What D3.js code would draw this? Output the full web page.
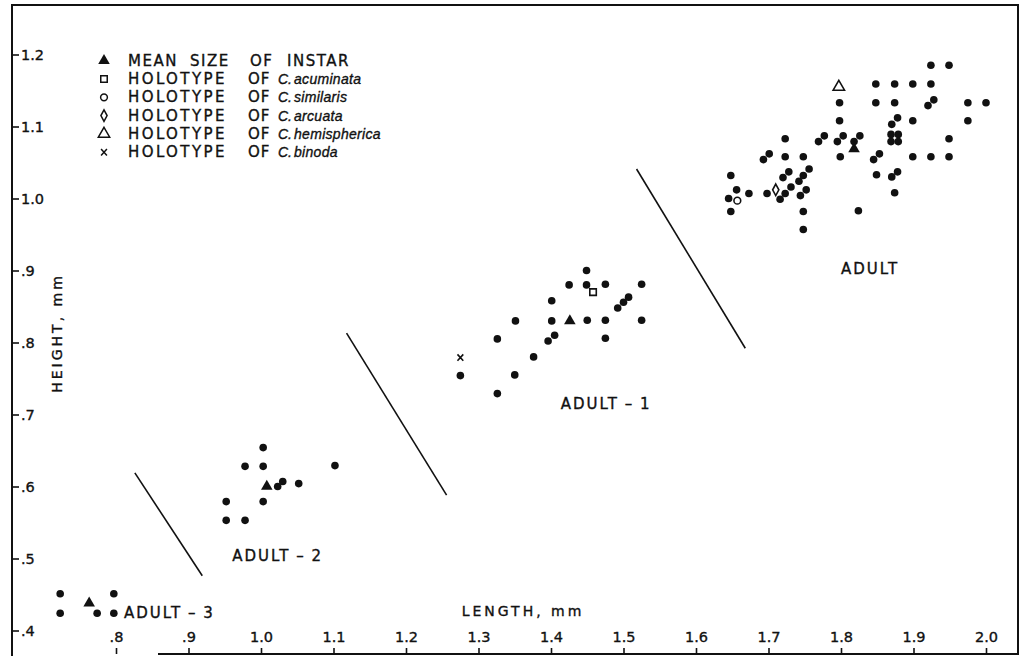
<!DOCTYPE html>
<html>
<head>
<meta charset="utf-8">
<script src="https://cdn.jsdelivr.net/npm/d3@7"></script>
<style>
body { margin: 0; background: #fff; }
svg { display: block; }
text { font-family: "DejaVu Sans", sans-serif; fill: #111; stroke: #111; stroke-width: 0.35px; }
</style>
</head>
<body>
<div id="chart"></div>
<script>
"use strict"

// length, height (mm) of each specimen, grouped by instar
var adult3 = [[0.723,0.451],[0.723,0.424],[0.797,0.451],[0.797,0.424],[0.774,0.424]];
var adult2 = [[0.952,0.579],[0.952,0.553],[0.978,0.628],[0.978,0.553],[1.003,0.654],
	[1.003,0.628],[1.003,0.579],[1.023,0.600],[1.030,0.607],[1.052,0.604],[1.102,0.629]];
var adult1 = [[1.275,0.754],[1.326,0.805],[1.326,0.729],[1.351,0.830],[1.350,0.755],
	[1.376,0.780],[1.396,0.802],[1.405,0.810],[1.401,0.858],[1.401,0.830],[1.425,0.880],
	[1.449,0.900],[1.449,0.880],[1.450,0.831],[1.475,0.881],[1.475,0.831],[1.475,0.806],
	[1.492,0.848],[1.500,0.856],[1.507,0.863],[1.525,0.881],[1.525,0.831]];
var adult = [[1.924,1.185],[1.949,1.185],
	[1.848,1.159],[1.874,1.159],[1.899,1.159],[1.924,1.159],
	[1.798,1.133],[1.848,1.133],[1.874,1.133],[1.920,1.129],[1.928,1.137],[1.975,1.133],[2.000,1.133],
	[1.798,1.108],[1.870,1.103],[1.878,1.112],[1.899,1.108],[1.975,1.108],
	[1.723,1.083],[1.769,1.079],[1.777,1.087],[1.795,1.079],[1.803,1.087],[1.818,1.079],[1.826,1.087],
	[1.869,1.089],[1.879,1.089],[1.869,1.079],[1.879,1.079],[1.949,1.083],
	[1.693,1.054],[1.701,1.062],[1.723,1.058],[1.748,1.058],[1.799,1.058],[1.845,1.054],[1.853,1.062],
	[1.899,1.058],[1.924,1.058],[1.949,1.058],
	[1.648,1.032],[1.756,1.041],[1.748,1.032],[1.728,1.037],[1.720,1.029],[1.849,1.033],[1.870,1.030],[1.878,1.037],
	[1.656,1.012],[1.673,1.007],[1.698,1.007],[1.716,0.999],[1.723,1.007],[1.731,1.016],[1.742,1.024],
	[1.752,1.012],[1.744,1.004],[1.874,1.008],
	[1.645,1.000],
	[1.648,0.982],[1.748,0.982],[1.824,0.983],
	[1.748,0.957]];

var meanLength = [0.763, 1.008, 1.426, 1.818];
var meanHeight = [0.438, 0.600, 0.830, 1.069];

var holoSpecies = ["acuminata", "similaris", "arcuata", "hemispherica", "binoda"];
var holoLength  = [1.458, 1.657, 1.710, 1.797, 1.275];
var holoHeight  = [0.870, 0.997, 1.012, 1.155, 0.779];

// boundaries drawn between instars, [length, height] end points
var dividers = [
	[[0.826,0.619],[0.919,0.476]],
	[[1.118,0.813],[1.256,0.588]],
	[[1.518,1.041],[1.668,0.792]]
];

var instarNames = ["ADULT \u2013 3", "ADULT \u2013 2", "ADULT \u2013 1", "ADULT"];

var xTicks = [0.8, 0.9, 1.0, 1.1, 1.2, 1.3, 1.4, 1.5, 1.6, 1.7, 1.8, 1.9, 2.0];
var xTickLabels = [".8", ".9", "1.0", "1.1", "1.2", "1.3", "1.4", "1.5", "1.6", "1.7", "1.8", "1.9", "2.0"];
var yTicks = [0.4, 0.5, 0.6, 0.7, 0.8, 0.9, 1.0, 1.1, 1.2];
var yTickLabels = [".4", ".5", ".6", ".7", ".8", ".9", "1.0", "1.1", "1.2"];

//
// 
//
var nWidth = 1024, nHeight = 656;

var svg = d3.select("#chart")
	.append("svg")
	.attr("width", nWidth)
	.attr("height", nHeight)
	;

var x = d3.scaleLinear().domain([0.8, 2.0]).range([116, 986]);
var y = d3.scaleLinear().domain([0.4, 1.2]).range([630.5, 54.5]);

// frame
var frame = svg.append("g")
	.attr("stroke", "#111")
	.attr("stroke-width", 2)
	.attr("fill", "none")
	;
frame.append("path").attr("d", "M12,656 L12,5 L1018,5 L1018,655");
frame.append("line")
	.attr("x1", 158).attr("y1", 654)
	.attr("x2", 1018).attr("y2", 654)
	;

// axes
var xAxis = d3.axisTop(x)
	.tickValues(xTicks)
	.tickFormat(function(d, i) { return xTickLabels[i]; })
	.tickSize(6)
	.tickPadding(6)
	;
var gx = svg.append("g")
	.attr("transform", "translate(0,654)")
	.call(xAxis)
	;
var yAxis = d3.axisRight(y)
	.tickValues(yTicks)
	.tickFormat(function(d, i) { return yTickLabels[i]; })
	.tickSize(7)
	.tickPadding(2)
	;
var gy = svg.append("g")
	.attr("transform", "translate(12,0)")
	.call(yAxis)
	;
[gx, gy].forEach(function(g) {
	g.select(".domain").remove();
	g.selectAll(".tick line").attr("stroke", "#111").attr("stroke-width", 1.6);
	g.selectAll(".tick text")
		.attr("fill", "#111")
		.style("font-family", "\"DejaVu Sans\", sans-serif")
		.style("font-size", "14.5px")
		;
});

// axis titles
svg.append("text")
	.attr("x", 523)
	.attr("y", 611)
	.attr("text-anchor", "middle")
	.attr("dominant-baseline", "central")
	.style("font-size", "14px")
	.style("letter-spacing", "3px")
	.text("LENGTH, mm")
	;
svg.append("text")
	.attr("transform", "translate(57,333) rotate(-90)")
	.attr("text-anchor", "middle")
	.attr("dominant-baseline", "central")
	.style("font-size", "14px")
	.style("letter-spacing", "3px")
	.text("HEIGHT, mm")
	;

// instar dividers
svg.append("g").selectAll("line")
	.data(dividers)
	.enter().append("line")
	.attr("x1", function(d) { return x(d[0][0]); })
	.attr("y1", function(d) { return y(d[0][1]); })
	.attr("x2", function(d) { return x(d[1][0]); })
	.attr("y2", function(d) { return y(d[1][1]); })
	.attr("stroke", "#111")
	.attr("stroke-width", 1.6)
	;

// instar labels, anchored in data units
var labelAt = [[0.811, 0.425, "start"], [1.023, 0.503, "middle"], [1.476, 0.715, "middle"], [1.840, 0.902, "middle"]];
svg.append("g").selectAll("text")
	.data(instarNames)
	.enter().append("text")
	.attr("x", function(d, i) { return x(labelAt[i][0]); })
	.attr("y", function(d, i) { return y(labelAt[i][1]); })
	.attr("text-anchor", function(d, i) { return labelAt[i][2]; })
	.attr("dominant-baseline", "central")
	.style("font-size", "15px")
	.style("letter-spacing", "2px")
	.style("word-spacing", "-1px")
	.text(function(d) { return d; })
	;

// specimens
var allPoints = adult3.concat(adult2, adult1, adult);
svg.append("g").selectAll("circle")
	.data(allPoints)
	.enter().append("circle")
	.attr("cx", function(d) { return x(d[0]); })
	.attr("cy", function(d) { return y(d[1]); })
	.attr("r", 3.8)
	.attr("fill", "#111")
	;

// symbols
var symNarrowDiamond = {
	draw: function(ctx, size) {
		var r = Math.sqrt(size);
		ctx.moveTo(0, -r * 0.75);
		ctx.lineTo(r * 0.4, 0);
		ctx.lineTo(0, r * 0.75);
		ctx.lineTo(-r * 0.4, 0);
		ctx.closePath();
	}
};
var symCross = {
	draw: function(ctx, size) {
		var r = Math.sqrt(size) / 2;
		ctx.moveTo(-r, -r * 1.1);
		ctx.lineTo(r, r * 1.1);
		ctx.moveTo(r, -r * 1.1);
		ctx.lineTo(-r, r * 1.1);
	}
};
var holoSymbols = [
	d3.symbol().type(d3.symbolSquare).size(42),
	d3.symbol().type(d3.symbolCircle).size(36),
	d3.symbol().type(symNarrowDiamond).size(60),
	d3.symbol().type(d3.symbolTriangle).size(56),
	d3.symbol().type(symCross).size(34)
];
var meanSymbol = d3.symbol().type(d3.symbolTriangle).size(58);

svg.append("g").selectAll("path")
	.data(meanLength)
	.enter().append("path")
	.attr("transform", function(d, i) { return "translate(" + x(d) + "," + y(meanHeight[i]) + ")"; })
	.attr("d", meanSymbol())
	.attr("fill", "#111")
	;

svg.append("g").selectAll("path")
	.data(holoSpecies)
	.enter().append("path")
	.attr("transform", function(d, i) { return "translate(" + x(holoLength[i]) + "," + y(holoHeight[i]) + ")"; })
	.attr("d", function(d, i) { return holoSymbols[i](); })
	.attr("fill", "#fff")
	.attr("stroke", "#111")
	.attr("stroke-width", 1.6)
	;

// legend
var legX = 104, legText = 128, legY = 60.7, legStep = 18.3;
var legend = svg.append("g");
legend.append("path")
	.attr("transform", "translate(" + legX + "," + legY + ")")
	.attr("d", meanSymbol())
	.attr("fill", "#111")
	;
var words = [["MEAN", 128], ["SIZE", 190], ["OF", 250], ["INSTAR", 287]];
legend.append("text")
	.attr("y", legY)
	.attr("dominant-baseline", "central")
	.style("font-size", "15px")
	.style("letter-spacing", "1.5px")
	.selectAll("tspan")
	.data(words)
	.enter().append("tspan")
	.attr("x", function(d) { return d[1]; })
	.text(function(d) { return d[0]; })
	;

holoSpecies.forEach(function(sName, i) {
	var yy = legY + legStep * (i + 1);
	legend.append("path")
		.attr("transform", "translate(" + legX + "," + yy + ")")
		.attr("d", holoSymbols[i]())
		.attr("fill", "#fff")
		.attr("stroke", "#111")
		.attr("stroke-width", 1.5)
		;
	var t = legend.append("text")
		.attr("y", yy)
		.attr("dominant-baseline", "central")
		.style("font-size", "15px")
		;
	t.append("tspan").attr("x", legText).style("letter-spacing", "2.4px").text("HOLOTYPE");
	t.append("tspan").attr("x", 248).style("letter-spacing", "1px").text("OF");
	t.append("tspan").attr("x", 278)
		.style("font-family", "\"Liberation Sans\", sans-serif")
		.style("font-style", "italic")
		.style("font-size", "14px")
		.text("C.");
	t.append("tspan").attr("x", 294)
		.style("font-family", "\"Liberation Sans\", sans-serif")
		.style("font-style", "italic")
		.style("font-size", "14px")
		.style("letter-spacing", "0.3px")
		.text(sName);
});
</script>
</body>
</html>
